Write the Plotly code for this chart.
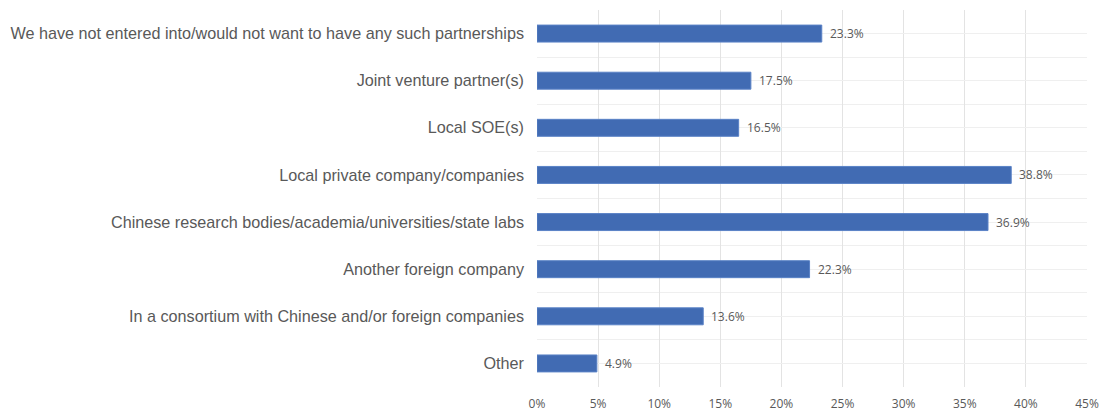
import plotly.graph_objects as go

categories = [
    "We have not entered into/would not want to have any such partnerships",
    "Joint venture partner(s)",
    "Local SOE(s)",
    "Local private company/companies",
    "Chinese research bodies/academia/universities/state labs",
    "Another foreign company",
    "In a consortium with Chinese and/or foreign companies",
    "Other",
]
values = [23.3, 17.5, 16.5, 38.8, 36.9, 22.3, 13.6, 4.9]
x_ticks = [0, 5, 10, 15, 20, 25, 30, 35, 40, 45]
x_tick_labels = [f"{t}%" for t in x_ticks]

positions = list(range(len(categories)))
label_font = dict(family="Open Sans, Lato, sans-serif", size=12, color="#595959")

fig = go.Figure(go.Bar(
    x=values,
    y=positions,
    orientation="h",
    width=0.36,
    marker=dict(color="#416bb3", line=dict(color="#5a82c6", width=1)),
    hoverinfo="x+y",
))

for v, p in zip(values, positions):
    fig.add_annotation(
        x=v, y=p, text=f"{v:.1f}%", showarrow=False,
        xanchor="left", yanchor="middle", xshift=6,
        font=label_font,
    )

fig.update_layout(
    width=1100, height=411,
    margin=dict(l=537, r=13, t=10, b=24),
    plot_bgcolor="white", paper_bgcolor="white",
    showlegend=False,
)
fig.update_xaxes(
    range=[0, 45], automargin=False,
    tickvals=x_ticks, ticktext=x_tick_labels,
    showgrid=True, gridcolor="#e3e3e3", gridwidth=1,
    zeroline=False, showline=False,
    tickfont=label_font,
    ticks="", ticklabelstandoff=8,
)
fig.update_yaxes(
    range=[len(categories) - 0.5, -0.5], automargin=False,
    tickmode="array", tickvals=positions, ticktext=categories,
    showgrid=True, gridcolor="#efefef", gridwidth=1,
    minor=dict(tickmode="array", tickvals=[p - 0.5 for p in positions] + [len(categories) - 0.5],
               showgrid=True, gridcolor="#efefef", gridwidth=1),
    zeroline=False, showline=False,
    tickfont=dict(family="Liberation Sans, Arial, sans-serif", size=16.2, color="#595959"),
    ticks="", ticklabelstandoff=12,
)

fig.write_html(
    "out.html",
    config={"displayModeBar": False},
    post_script="document.body.style.margin='0';document.body.style.overflow='hidden';",
)
